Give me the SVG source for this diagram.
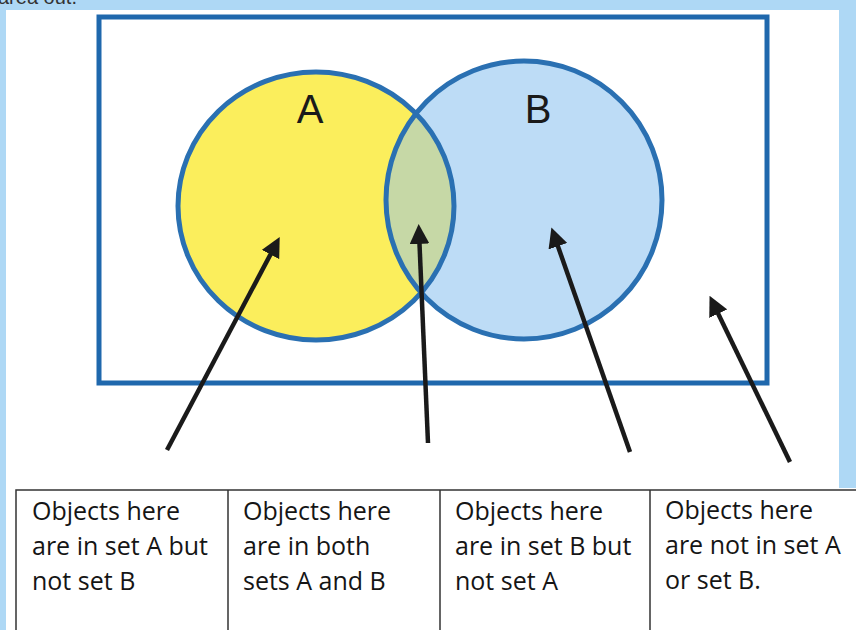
<svg xmlns="http://www.w3.org/2000/svg" width="856" height="630" viewBox="0 0 856 630">
<style>
.set{stroke:#2a70b2;stroke-width:5}
.lbl{font-family:"Liberation Sans",Arial,sans-serif;font-size:40px;fill:#1a1a1a;text-anchor:middle}
.cell{font-family:"Open Sans","Liberation Sans",sans-serif;font-size:25px;fill:#151515}
.arrow{stroke:#1a1a1a;stroke-width:4.5;fill:none;marker-end:url(#ah)}
.grid{stroke:#333;stroke-width:1.5;fill:none}
</style>
<defs>
<marker id="ah" viewBox="0 0 10 10" refX="6" refY="5" markerWidth="4.4" markerHeight="4.4" orient="auto" markerUnits="strokeWidth">
<path d="M0,0 L10,5 L0,10 z" fill="#1a1a1a"/>
</marker>
<clipPath id="clipA"><ellipse cx="316" cy="206" rx="138" ry="134"/></clipPath>
</defs>
<rect x="0" y="0" width="856" height="630" fill="#aed8f5"/>
<rect x="6" y="10" width="833" height="620" fill="#ffffff"/>
<text x="-2" y="4" font-family="Liberation Sans,sans-serif" font-size="20" fill="#333">area out.</text>

<g id="universe">
<rect x="99" y="17" width="668" height="366" fill="#ffffff" stroke="#1f68ad" stroke-width="5"/>
</g>
<g id="setA">
<ellipse cx="316" cy="206" rx="138" ry="134" fill="#fbee5c"/>
</g>
<g id="setB">
<ellipse cx="524" cy="200" rx="138" ry="139" fill="#bddcf6"/>
<ellipse cx="524" cy="200" rx="138" ry="139" fill="#c6d8a6" clip-path="url(#clipA)"/>
<ellipse cx="316" cy="206" rx="138" ry="134" fill="none" class="set"/>
<ellipse cx="524" cy="200" rx="138" ry="139" fill="none" class="set"/>
<text class="lbl" x="310" y="123">A</text>
<text class="lbl" x="538" y="123">B</text>
</g>

<g id="connectors">
<line class="arrow" x1="167" y1="450" x2="276" y2="244"/>
<line class="arrow" x1="428" y1="443" x2="419" y2="232"/>
<line class="arrow" x1="630" y1="452" x2="554" y2="235"/>
<line class="arrow" x1="790" y1="462" x2="713" y2="303"/>
</g>

<g id="table">
<rect x="6" y="488" width="850" height="142" fill="#ffffff"/>
<path class="grid" d="M16,630 V490 H856 M228,490 V630 M440,490 V630 M650,490 V630"/>
</g>
<g id="cell1">
<text class="cell" x="32" y="520">Objects here</text>
<text class="cell" x="32" y="555">are in set A but</text>
<text class="cell" x="32" y="590">not set B</text>
</g>
<g id="cell2">
<text class="cell" x="243" y="520">Objects here</text>
<text class="cell" x="243" y="555">are in both</text>
<text class="cell" x="243" y="590">sets A and B</text>
</g>
<g id="cell3">
<text class="cell" x="455" y="520">Objects here</text>
<text class="cell" x="455" y="555">are in set B but</text>
<text class="cell" x="455" y="590">not set A</text>
</g>
<g id="cell4">
<text class="cell" x="665" y="519">Objects here</text>
<text class="cell" x="665" y="554">are not in set A</text>
<text class="cell" x="665" y="589">or set B.</text>
</g>
</svg>
